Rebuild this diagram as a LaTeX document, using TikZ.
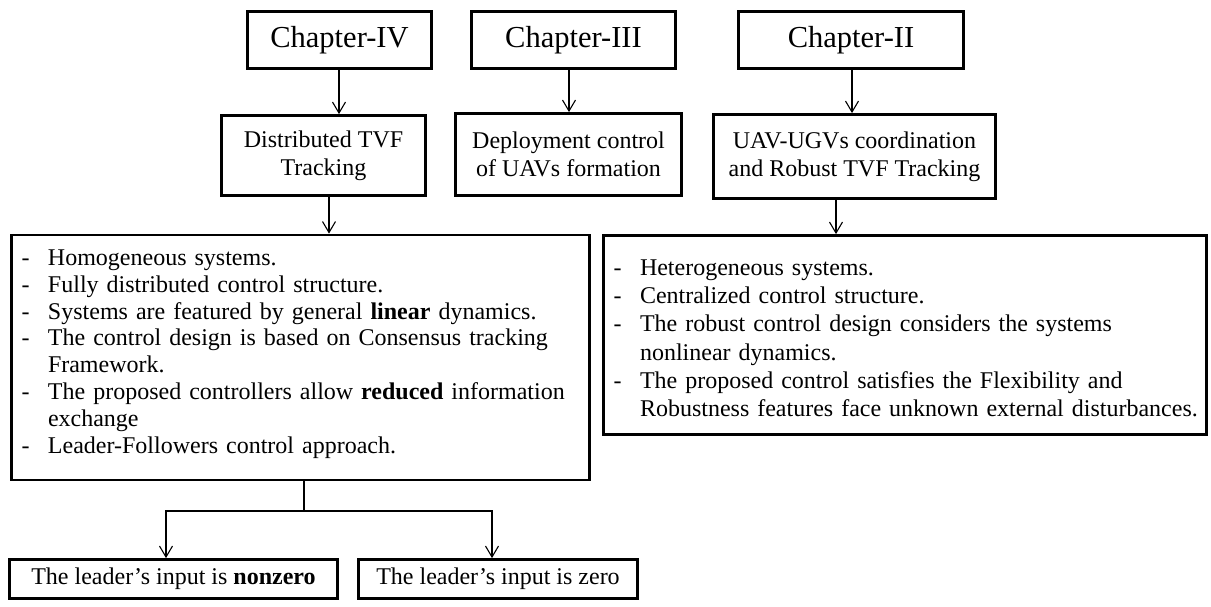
\documentclass[tikz,border=0pt]{standalone}
\usepackage{fontspec}
\setmainfont{Liberation Serif}
\usetikzlibrary{arrows.meta}
\newcommand{\itm}[1]{\par\hangindent=26.5pt\hangafter=1\noindent\makebox[26.5pt][l]{-}#1}
\newcommand{\listsetup}{\parskip=0pt\rightskip=0pt plus 1fil\hyphenpenalty=10000\exhyphenpenalty=10000\hbadness=10000\hfuzz=20pt}
\tikzset{
  box/.style={draw, line width=2.8pt, inner sep=0pt, align=center, font=\fontsize{24}{28}\selectfont},
  chbox/.style={box, font=\fontsize{30.5}{36}\selectfont},
  listbox/.style={draw, line width=2.8pt, inner xsep=10pt, inner ysep=0pt},
  conn/.style={line width=1.1pt, -{Straight Barb[length=11pt,width=13pt,line width=1.1pt]}},
  plain/.style={line width=1.1pt}
}
\begin{document}
\begin{tikzpicture}[x=1pt,y=-1pt]
\useasboundingbox (0,0) rectangle (1211,606);
% chapter row
\node[chbox, minimum width=184pt, minimum height=57pt] (ch4) at (339.5,40) {Chapter-IV};
\node[chbox, minimum width=204pt, minimum height=57pt] (ch3) at (573.5,40) {Chapter-III};
\node[chbox, minimum width=225pt, minimum height=57pt] (ch2) at (851,40) {Chapter-II};
% second row
\node[box, minimum width=204pt, minimum height=80pt] (dist) at (323.5,155.5) {Distributed TVF\\Tracking};
\node[box, minimum width=226pt, minimum height=82pt] (depl) at (568.5,154.5) {Deployment control\\of UAVs formation};
\node[box, minimum width=282pt, minimum height=84pt] (uav) at (854.5,156.5) {UAV-UGVs coordination\\and Robust TVF Tracking};
% list boxes
\node[listbox, text width=558pt, minimum height=245pt, font=\fontsize{24}{26.8}\selectfont] (lbox) at (300.5,357.5) {%
\listsetup
\itm{Homogeneous systems.}
\itm{Fully distributed control structure.}
\itm{Systems are featured by general \textbf{linear} dynamics.}
\itm{The control design is based on Consensus tracking\newline Framework.}
\itm{The proposed controllers allow \textbf{reduced} information\newline exchange}
\itm{Leader-Followers control approach.}\par\kern18pt};
\node[listbox, text width=583pt, minimum height=199pt, font=\fontsize{24}{28.3}\selectfont] (rbox) at (905,335) {%
\listsetup
\itm{Heterogeneous systems.}
\itm{Centralized control structure.}
\itm{The robust control design considers the systems\newline nonlinear dynamics.}
\itm{The proposed control satisfies the Flexibility and\newline \mbox{Robustness features face unknown external disturbances.}}\par\kern6pt};
% bottom row
\node[box, minimum width=328pt, minimum height=39pt] (bl) at (173.5,579) {The leader’s input is \textbf{nonzero}};
\node[box, minimum width=279pt, minimum height=39pt] (br) at (498,579) {The leader’s input is zero};
% connector x positions
\coordinate (a4) at (339,0);
\coordinate (a3) at (569,0);
\coordinate (a2) at (852,0);
\coordinate (ad) at (329,0);
\coordinate (au) at (836,0);
\coordinate (j) at (304,511);
\coordinate (jl) at (166,511);
\coordinate (jr) at (492,511);
% connectors
\draw[conn] (ch4.south -| a4) -- (dist.north -| a4);
\draw[conn] (ch3.south -| a3) -- (depl.north -| a3);
\draw[conn] (ch2.south -| a2) -- (uav.north -| a2);
\draw[conn] (dist.south -| ad) -- (lbox.north -| ad);
\draw[conn] (uav.south -| au) -- (rbox.north -| au);
\draw[plain] (lbox.south -| j) -- (j);
\draw[conn] (j) -- (jl) -- (bl.north -| jl);
\draw[conn] (j) -- (jr) -- (br.north -| jr);
\end{tikzpicture}
\end{document}
